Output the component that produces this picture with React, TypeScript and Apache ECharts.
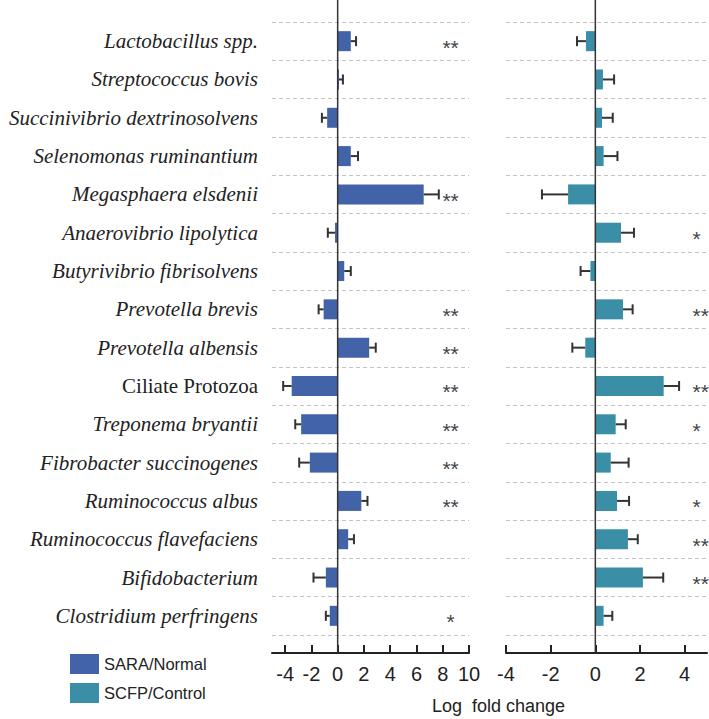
import React, { useEffect, useRef } from "react";
import * as echarts from "echarts";

const categories = [
  "Lactobacillus spp.",
  "Streptococcus bovis",
  "Succinivibrio dextrinosolvens",
  "Selenomonas ruminantium",
  "Megasphaera elsdenii",
  "Anaerovibrio lipolytica",
  "Butyrivibrio fibrisolvens",
  "Prevotella brevis",
  "Prevotella albensis",
  "Ciliate Protozoa",
  "Treponema bryantii",
  "Fibrobacter succinogenes",
  "Ruminococcus albus",
  "Ruminococcus flavefaciens",
  "Bifidobacterium",
  "Clostridium perfringens",
];
const nonItalic = ["Ciliate Protozoa"];

const saraValues = [1.0, 0.1, -0.8, 1.0, 6.55, -0.2, 0.5, -1.07, 2.4, -3.5, -2.78, -2.12, 1.8, 0.8, -0.9, -0.6];
const saraErr = [0.4, 0.3, 0.4, 0.55, 1.15, 0.55, 0.5, 0.38, 0.5, 0.65, 0.45, 0.81, 0.47, 0.44, 0.94, 0.3];
const saraStars = ["**", "", "", "", "**", "", "", "**", "**", "**", "**", "**", "**", "", "", "*"];

const scfpValues = [-0.42, 0.34, 0.3, 0.37, -1.22, 1.15, -0.22, 1.24, -0.45, 3.06, 0.91, 0.69, 0.97, 1.46, 2.13, 0.37];
const scfpErr = [0.4, 0.5, 0.48, 0.62, 1.17, 0.58, 0.44, 0.43, 0.58, 0.69, 0.45, 0.8, 0.54, 0.44, 0.91, 0.39];
const scfpStars = ["", "", "", "", "", "*", "", "**", "", "**", "*", "", "*", "**", "**", ""];

const leftTicks = [-4, -2, 0, 2, 4, 6, 8, 10];
const rightTicks = [-4, -2, 0, 2, 4];

const SERIES_NAMES = ["SARA/Normal", "SCFP/Control"];
const COLORS = ["#4263a8", "#3a8ea6"];
const SANS = "'Liberation Sans', Arial, sans-serif";
const SERIF = "'Liberation Serif', 'Times New Roman', serif";

function errorData(values: number[], errs: number[]) {
  return values.map((v, i) => [v, i, v + (v >= 0 ? errs[i] : -errs[i])]);
}

function errRender(params: any, api: any) {
  const v = api.value(0);
  const idx = api.value(1);
  const e = api.value(2);
  const p0 = api.coord([v, idx]);
  const p1 = api.coord([e, idx]);
  const style = { stroke: "#333", lineWidth: 2 };
  return {
    type: "group",
    children: [
      { type: "line", shape: { x1: p0[0], y1: p0[1], x2: p1[0], y2: p1[1] }, style },
      { type: "line", shape: { x1: p1[0], y1: p1[1] - 5, x2: p1[0], y2: p1[1] + 5 }, style },
    ],
  };
}

function zeroRender(params: any, api: any) {
  const cs = params.coordSys;
  const p = api.coord([0, 0]);
  return {
    type: "line",
    shape: { x1: p[0], y1: cs.y - 22, x2: p[0], y2: cs.y + cs.height + 18 },
    style: { stroke: "#333", lineWidth: 1.5 },
  };
}

function starRender(stars: string[], align: string) {
  return (params: any, api: any) => {
    const p = api.coord([api.value(0), api.value(1)]);
    return {
      type: "text",
      style: {
        text: stars[params.dataIndex],
        x: p[0],
        y: p[1] + 6,
        fill: "#444",
        fontSize: 21,
        fontFamily: SANS,
        align,
        verticalAlign: "middle",
      },
    };
  };
}

export default function App() {
  const ref = useRef<HTMLDivElement>(null);
  useEffect(() => {
    document.body.style.margin = "0";
    const chart = echarts.init(ref.current!, null, { renderer: "svg" });
    const yAxisBase = {
      type: "category",
      data: categories,
      inverse: true,
      axisLine: { show: false },
      axisTick: { show: false },
      splitLine: { show: true, lineStyle: { color: "#c4c4c4", type: [4, 3], width: 1 } },
    };
    const xAxisBase = {
      type: "value",
      offset: 18,
      axisLine: { show: true, onZero: false, lineStyle: { color: "#222", width: 2 } },
      axisTick: { show: true, inside: true, length: 8, lineStyle: { color: "#222", width: 2 } },
      splitLine: { show: false },
      axisLabel: { color: "#222", fontSize: 20, fontFamily: SANS, margin: 11 },
    };
    const stars = (s: string[], x: number) => s.map((_, i) => [x, i]);
    chart.setOption({
      animation: false,
      backgroundColor: "#fff",
      legend: {
        data: SERIES_NAMES,
        orient: "vertical",
        left: 70,
        top: 654,
        padding: 0,
        itemWidth: 29,
        itemHeight: 20,
        itemGap: 9,
        icon: "rect",
        textStyle: { color: "#222", fontSize: 16.5, fontFamily: SANS },
      },
      grid: [
        { left: 272, top: 22, width: 197, height: 613 },
        { left: 506, top: 22, width: 201, height: 613 },
      ],
      xAxis: [
        {
          ...xAxisBase,
          gridIndex: 0,
          min: -5,
          max: 10,
          axisTick: { ...xAxisBase.axisTick, customValues: leftTicks },
          axisLabel: { ...xAxisBase.axisLabel, customValues: leftTicks },
        },
        {
          ...xAxisBase,
          gridIndex: 1,
          min: -4,
          max: 5,
          axisTick: { ...xAxisBase.axisTick, customValues: rightTicks },
          axisLabel: { ...xAxisBase.axisLabel, customValues: rightTicks },
        },
      ],
      yAxis: [
        {
          ...yAxisBase,
          gridIndex: 0,
          axisLabel: {
            margin: 14,
            formatter: (v: string) => (nonItalic.includes(v) ? `{rm|${v}}` : `{it|${v}}`),
            rich: {
              it: { fontFamily: SERIF, fontStyle: "italic", fontSize: 21, color: "#222" },
              rm: { fontFamily: SERIF, fontSize: 21, color: "#222" },
            },
          },
        },
        { ...yAxisBase, gridIndex: 1, axisLabel: { show: false } },
      ],
      graphic: [
        {
          type: "text",
          left: 432,
          top: 697,
          style: { text: "Log  fold change", fill: "#222", fontSize: 18, fontFamily: SANS },
        },
      ],
      series: [
        {
          name: SERIES_NAMES[0],
          type: "bar",
          xAxisIndex: 0,
          yAxisIndex: 0,
          data: saraValues,
          barWidth: 20,
          itemStyle: { color: COLORS[0] },
        },
        {
          name: SERIES_NAMES[1],
          type: "bar",
          xAxisIndex: 1,
          yAxisIndex: 1,
          data: scfpValues,
          barWidth: 20,
          itemStyle: { color: COLORS[1] },
        },
        {
          type: "custom",
          xAxisIndex: 0,
          yAxisIndex: 0,
          data: errorData(saraValues, saraErr),
          encode: { x: [0, 2], y: 1 },
          renderItem: errRender,
          z: 3,
        },
        {
          type: "custom",
          xAxisIndex: 1,
          yAxisIndex: 1,
          data: errorData(scfpValues, scfpErr),
          encode: { x: [0, 2], y: 1 },
          renderItem: errRender,
          z: 3,
        },
        {
          type: "custom",
          xAxisIndex: 0,
          yAxisIndex: 0,
          data: [[0, 0]],
          clip: false,
          renderItem: zeroRender,
          z: 4,
        },
        {
          type: "custom",
          xAxisIndex: 1,
          yAxisIndex: 1,
          data: [[0, 0]],
          clip: false,
          renderItem: zeroRender,
          z: 4,
        },
        {
          type: "custom",
          xAxisIndex: 0,
          yAxisIndex: 0,
          data: stars(saraStars, 8.6),
          renderItem: starRender(saraStars, "center"),
          z: 5,
        },
        {
          type: "custom",
          xAxisIndex: 1,
          yAxisIndex: 1,
          data: stars(scfpStars, 4.35),
          clip: false,
          renderItem: starRender(scfpStars, "left"),
          z: 5,
        },
      ],
    });
    return () => chart.dispose();
  }, []);
  return <div ref={ref} style={{ width: 709, height: 719 }} />;
}
